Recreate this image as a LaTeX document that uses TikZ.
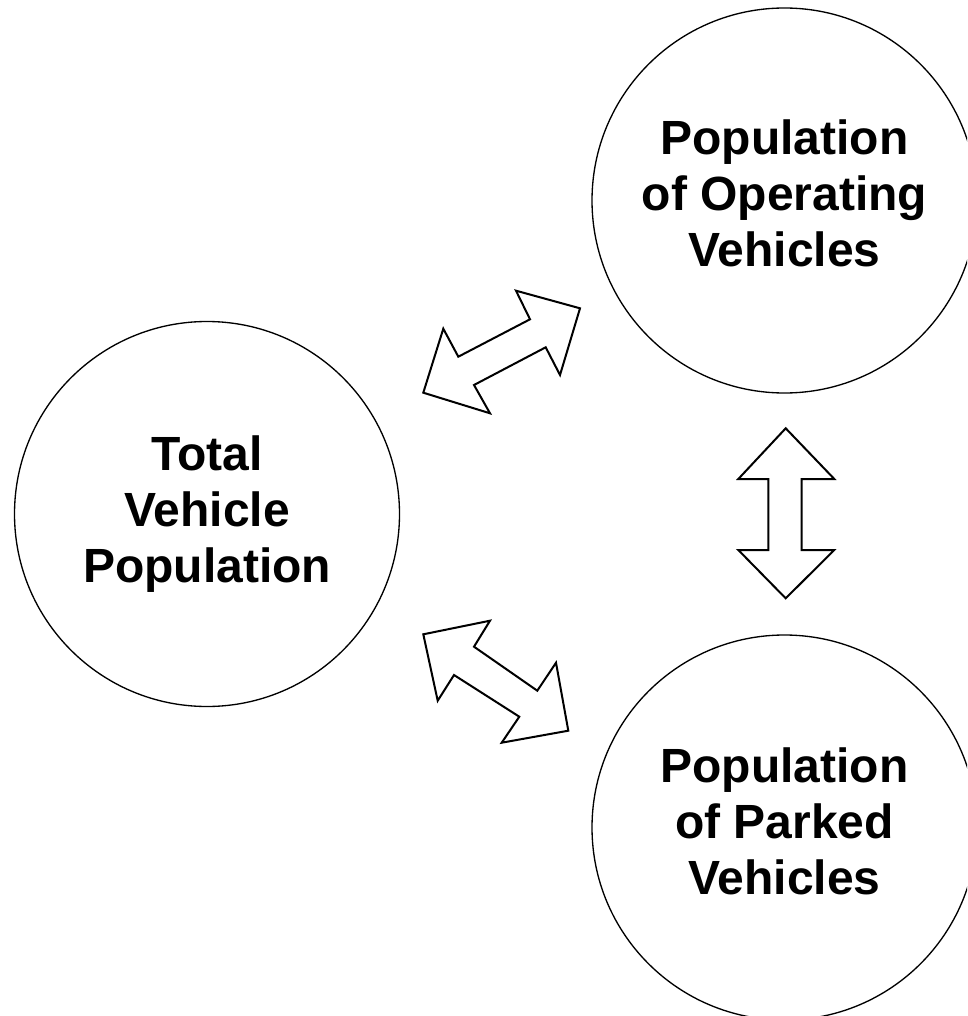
\documentclass[tikz,border=0pt]{standalone}
\usepackage{fontspec}
\setmainfont{Liberation Sans}
\begin{document}
\begin{tikzpicture}[x=0.75pt,y=-0.75pt,
  circ/.style={circle, draw, line width=1pt, minimum size=288.75pt, inner sep=0pt},
  lbl/.style={align=center, inner sep=0pt, font=\fontsize{36}{42}\selectfont\bfseries},
  blk/.style={draw, line width=1.5pt, line join=miter, fill=white}]
\useasboundingbox (0,0) rectangle (967,1016);
\clip (0,0) rectangle (967,1016);
% circles
\node[circ] (total) at (207,514) {};
\node[circ] (oper) at (784.5,200.5) {};
\node[circ] (park) at (784.5,827.5) {};
% labels
\node[lbl] (totaltxt) at (207,514) {Total\\Vehicle\\Population};
\node[lbl] (opertxt) at (784.5,193.5) {Population\\of Operating\\Vehicles};
\node[lbl] (parktxt) at (784.5,821.5) {Population\\of Parked\\Vehicles};
% block double arrows
\draw[blk] (580,308.3) -- (516,290.7) -- (530,319.3) -- (458.3,356.7) -- (443.3,328.7)
  -- (423.3,392.7) -- (490,413.3) -- (474,385) -- (545.7,347.3) -- (560,375) -- cycle;
\draw[blk] (423.3,634.3) -- (490,620.7) -- (474,646.7) -- (537.3,690.7) -- (556,662.7)
  -- (568.3,730.7) -- (501.7,742.7) -- (519.3,716.7) -- (454,675) -- (437.7,700.7) -- cycle;
\draw[blk] (785.7,428.3) -- (834.3,479) -- (801.7,479) -- (801.7,550) -- (834.3,550)
  -- (785.7,598.3) -- (738.3,550) -- (768.3,550) -- (768.3,479) -- (738.3,479) -- cycle;
\end{tikzpicture}
\end{document}
